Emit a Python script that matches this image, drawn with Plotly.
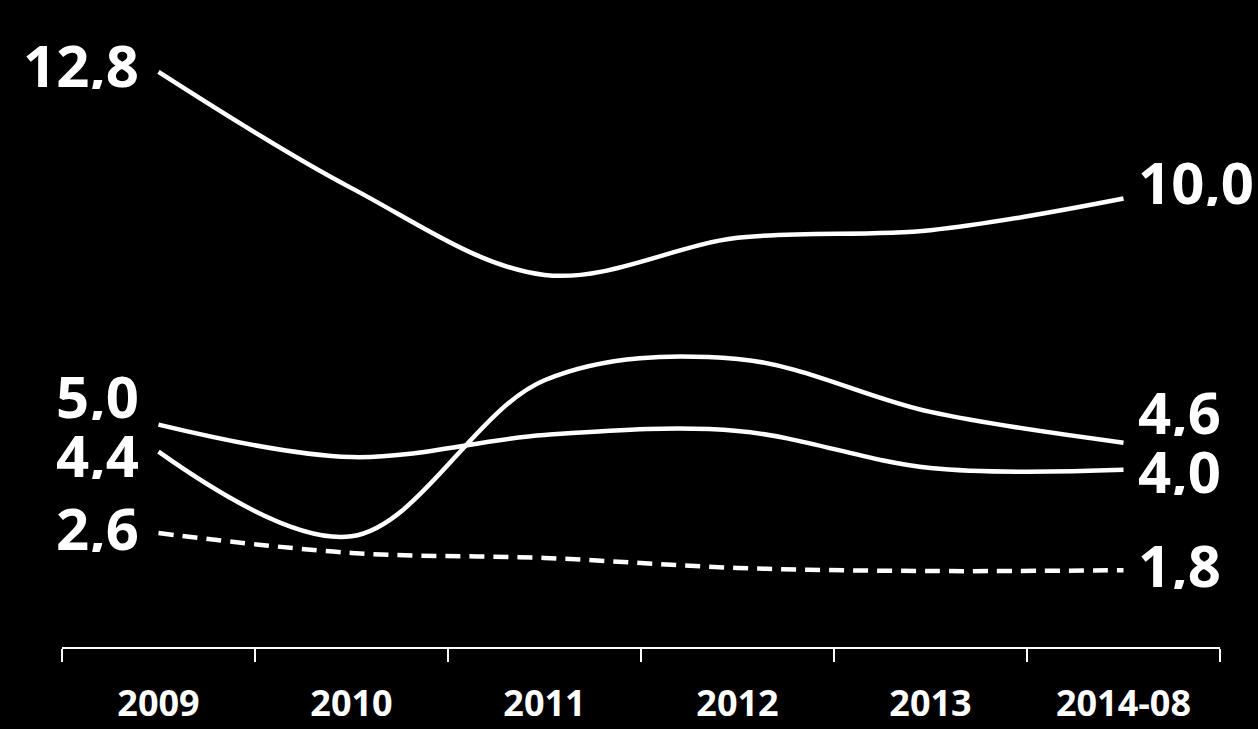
import plotly.graph_objects as go

categories = ["2009", "2010", "2011", "2012", "2013", "2014-08"]
series_a = [12.8, 10.23, 8.31, 9.13, 9.30, 10.0]
series_b = [5.0, 4.28, 4.77, 4.86, 4.04, 4.0]
series_c = [4.4, 2.53, 5.98, 6.45, 5.28, 4.6]
series_d = [2.6, 2.16, 2.05, 1.83, 1.76, 1.78]

start_labels = ["12,8", "5,0", "4,4", "2,6"]
end_labels = ["10,0", "4,0", "4,6", "1,8"]

all_series = [series_a, series_b, series_c, series_d]
dashes = ["solid", "solid", "solid", "15px,9px"]
start_shift = [8, 30, -2, 6]
end_shift = [18, 0, 32, 6]

fig = go.Figure()
for s, d in zip(all_series, dashes):
    fig.add_trace(go.Scatter(
        x=categories, y=s, mode="lines",
        line=dict(color="white", width=4.5, shape="spline", smoothing=1.0, dash=d),
        hoverinfo="skip", showlegend=False,
    ))

label_font = dict(family="Open Sans", size=58, color="white", weight="bold")
first_idx = 0
last_idx = len(categories) - 1
for s, lab, ys in zip(all_series, start_labels, start_shift):
    fig.add_annotation(x=first_idx, y=s[0], text=lab, showarrow=False,
                       xanchor="right", yanchor="middle", xshift=-18, yshift=ys,
                       height=50, valign="middle", font=label_font)
for s, lab, ys in zip(all_series, end_labels, end_shift):
    fig.add_annotation(x=last_idx, y=s[-1], text=lab, showarrow=False,
                       xanchor="left", yanchor="middle", xshift=12, yshift=ys,
                       height=50, valign="middle", font=label_font)

fig.update_layout(
    width=1258, height=729,
    paper_bgcolor="black", plot_bgcolor="black",
    margin=dict(l=62, r=38, t=10, b=82),
    xaxis=dict(
        type="category", range=[-0.5, 5.5], showgrid=False, zeroline=False,
        automargin=False,
        showline=True, linecolor="white", linewidth=1.5,
        ticks="outside", tickson="boundaries", ticklen=13, tickwidth=1.5, tickcolor="white",
        tickfont=dict(family="Open Sans", size=36, color="white", weight="bold"),
        ticklabelstandoff=24,
    ),
    yaxis=dict(range=[0.08, 14.17], visible=False, showgrid=False, zeroline=False),
)

fig.write_html("out.html")
